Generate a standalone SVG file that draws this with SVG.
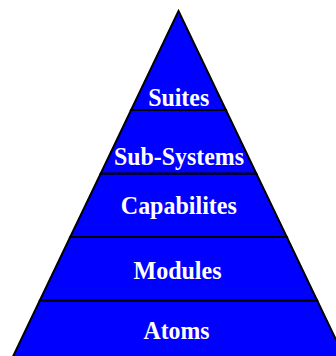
<svg xmlns="http://www.w3.org/2000/svg" width="336" height="356" viewBox="0 0 336 356">
<style>
.tier{fill:#0000FF;stroke:#000000;stroke-width:2;stroke-linejoin:miter}
.lbl{font-family:"Liberation Serif","Times New Roman",serif;font-weight:bold;font-size:26px;fill:#FFFFFF;text-anchor:middle}
</style>
<rect width="336" height="356" fill="#FFFFFF"/>
<g id="atoms">
<polygon class="tier" points="39.8,300.5 317.2,300.5 347.6,364 9.4,364"/>
<text class="lbl" x="176.5" y="338.5" textLength="66" lengthAdjust="spacingAndGlyphs">Atoms</text>
</g>
<g id="modules">
<polygon class="tier" points="70.2,237 286.8,237 317.2,300.5 39.8,300.5"/>
<text class="lbl" x="177.5" y="278.5" textLength="88" lengthAdjust="spacingAndGlyphs">Modules</text>
</g>
<g id="capabilites">
<polygon class="tier" points="100.7,173.5 256.3,173.5 286.8,237 70.2,237"/>
<text class="lbl" x="178.8" y="213.5" textLength="116" lengthAdjust="spacingAndGlyphs">Capabilites</text>
</g>
<g id="sub-systems">
<polygon class="tier" points="131.1,110 225.9,110 256.3,173.5 100.7,173.5"/>
<text class="lbl" x="179" y="165" textLength="130" lengthAdjust="spacingAndGlyphs">Sub-Systems</text>
</g>
<g id="suites">
<polygon class="tier" points="178.5,11 225.9,110 131.1,110"/>
<text class="lbl" x="178.7" y="106" textLength="61" lengthAdjust="spacingAndGlyphs">Suites</text>
</g>
<g id="connectors"></g>
</svg>
